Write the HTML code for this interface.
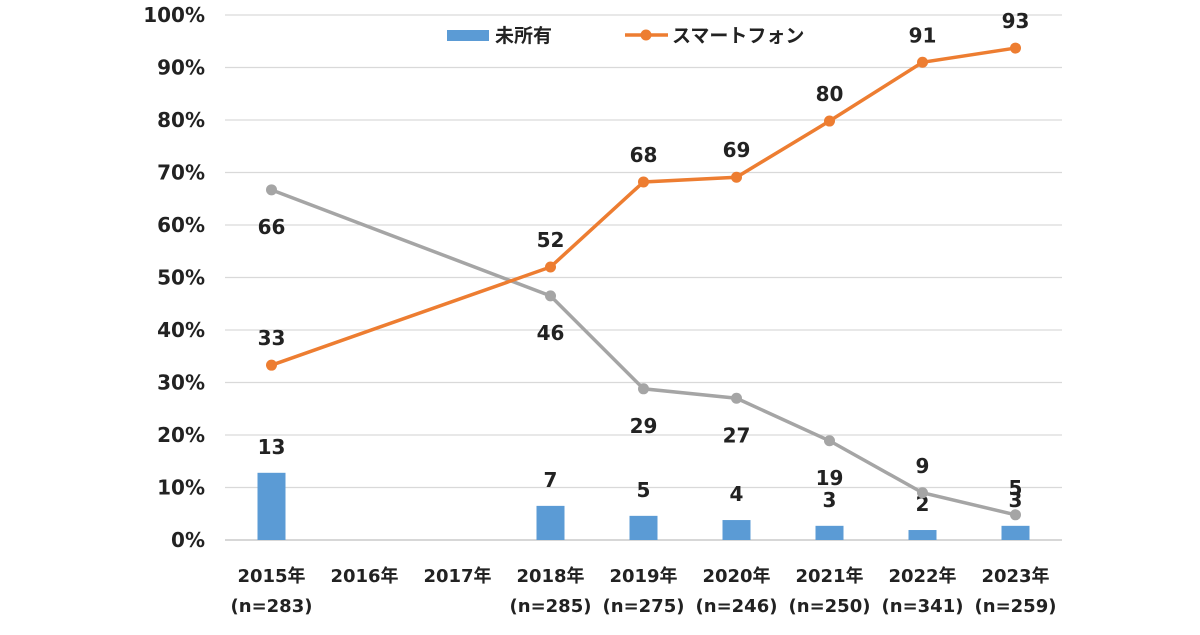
<!DOCTYPE html>
<html><head><meta charset="utf-8"><style>
body{margin:0;background:#fff;}
svg text{font-family:"DejaVu Sans","Liberation Sans","Noto Sans CJK JP",sans-serif;font-weight:bold;fill:#222;}
</style></head><body>
<svg id="c" width="1200" height="630"></svg>
<script>
const categories=["2015年","2016年","2017年","2018年","2019年","2020年","2021年","2022年","2023年"];
const sampleSizes=["(n=283)","","","(n=285)","(n=275)","(n=246)","(n=250)","(n=341)","(n=259)"];
const noneValues=[12.8,null,null,6.5,4.6,3.8,2.7,1.9,2.7];
const noneLabels=["13","","","7","5","4","3","2","3"];
const phoneValues=[33.3,null,null,52,68.2,69.1,79.8,91,93.7];
const phoneLabels=["33","","","52","68","69","80","91","93"];
const featureValues=[66.7,null,null,46.5,28.8,27,18.9,9,4.8];
const featureLabels=["66","","","46","29","27","19","9","5"];
const yTicks=[0,10,20,30,40,50,60,70,80,90,100];
const svg=document.getElementById('c');const NS="http://www.w3.org/2000/svg";
const x0=225,x1=1062,yb=540,yt=15,step=(x1-x0)/9;
const X=i=>x0+step*(i+0.5);const Y=v=>yb-(yb-yt)*v/100;
function el(t,a,txt){const e=document.createElementNS(NS,t);for(const k in a)e.setAttribute(k,a[k]);if(txt!==undefined)e.textContent=txt;svg.appendChild(e);return e;}
yTicks.forEach(v=>{
 const l=el('line',{x1:x0,x2:x1,y1:Y(v),y2:Y(v),stroke:v===0?'#bfbfbf':'#d9d9d9','stroke-width':1.3});
 
 
 const t=el('text',{x:205,y:Y(v)+7,'text-anchor':'end','font-size':20},v+'%');
 
 
});
categories.forEach((c,i)=>{
 const t=el('text',{x:X(i),y:582,'text-anchor':'middle','font-size':18},c);
 
 
 if(sampleSizes[i]){const s=el('text',{x:X(i),y:612,'text-anchor':'middle','font-size':18},sampleSizes[i]);
 
 }
});
noneValues.forEach((v,i)=>{if(v==null)return;
 const r=el('rect',{x:X(i)-14,y:Y(v),width:28,height:yb-Y(v),fill:'#5b9bd5'});
 
 
 const t=el('text',{x:X(i),y:Y(v)-19,'text-anchor':'middle','font-size':20},noneLabels[i]);
 
 
});
function series(vals,labs,color,name,below){
 const pts=vals.map((v,i)=>v==null?null:[X(i),Y(v)]).filter(p=>p);
 const p=el('polyline',{points:pts.map(p=>p.join(',')).join(' '),fill:'none',stroke:color,'stroke-width':3.5});
 
 
 vals.forEach((v,i)=>{if(v==null)return;
  const c=el('circle',{cx:X(i),cy:Y(v),r:5.5,fill:color});
  
  
  const b=below&&v>9.5;
  const t=el('text',{x:X(i),y:b?Y(v)+44:Y(v)-20,'text-anchor':'middle','font-size':20},labs[i]);
  
  
 });
}
series(featureValues,featureLabels,'#a5a5a5','feature-phone',true);
series(phoneValues,phoneLabels,'#ed7d31','smartphone',false);
const lr=el('rect',{x:447,y:30,width:42,height:11,fill:'#5b9bd5'});


const lt=el('text',{x:495,y:42,'font-size':19},'未所有');


const ll=el('line',{x1:625,x2:668,y1:35,y2:35,stroke:'#ed7d31','stroke-width':3.5});


const lc=el('circle',{cx:646,cy:35,r:5.5,fill:'#ed7d31'});


const lt2=el('text',{x:672,y:42,'font-size':19},'スマートフォン');


</script></body></html>
